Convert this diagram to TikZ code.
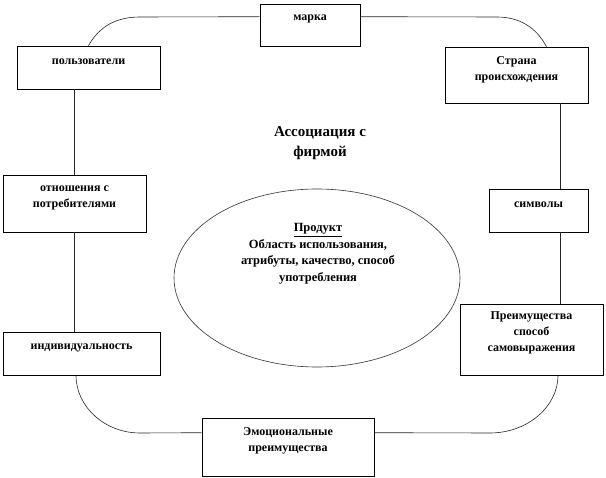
\documentclass[tikz,border=0pt]{standalone}
\usepackage{fontspec}
\setmainfont{Liberation Serif}
\usetikzlibrary{shadows,shapes.geometric}
\begin{document}
\begin{tikzpicture}[x=1pt,y=-1pt,
  box/.style={draw=black, line width=0.6pt, fill=white, inner sep=0pt,
    drop shadow={shadow xshift=1.2pt, shadow yshift=-1.2pt, fill=gray!80, opacity=0.8}},
  txt/.style={font=\bfseries\fontsize{12}{16}\selectfont, align=center, inner sep=0pt},
  ptxt/.style={font=\bfseries\fontsize{12.5}{16.5}\selectfont, align=center, inner sep=0pt},
  big/.style={font=\bfseries\fontsize{15}{20.5}\selectfont, align=center, inner sep=0pt},
  loop/.style={line width=0.6pt, draw=black!85}]
\useasboundingbox (0,0) rectangle (606,478);
\fill[white] (0,0) rectangle (606,478);

% reference coordinates for the loop
\coordinate (lx) at (74,0);
\coordinate (rx) at (560,0);

% central ellipse
\node[draw=black!80, line width=0.6pt, ellipse, minimum width=286pt, minimum height=178pt, inner sep=0pt] (prod) at (317,278) {};
\node[ptxt] (prodt) at (318,254) {\underline{Продукт}\\Область использования,\\атрибуты, качество, способ\\употребления};

\node[big] (assoc) at (320,143) {Ассоциация с\\фирмой};

% boxes
\node[box, minimum width=100pt, minimum height=42pt] (marka) at (310,25) {};
\node[box, minimum width=143pt, minimum height=43pt] (user) at (88.5,67.5) {};
\node[box, minimum width=143pt, minimum height=56pt] (country) at (516.5,75) {};
\node[box, minimum width=143pt, minimum height=57pt] (relat) at (74.5,203.5) {};
\node[box, minimum width=99pt, minimum height=43pt] (symb) at (538.5,210.5) {};
\node[box, minimum width=143pt, minimum height=71pt] (pref) at (531.5,339.5) {};
\node[box, minimum width=157pt, minimum height=43pt] (indiv) at (81.5,353.5) {};
\node[box, minimum width=172pt, minimum height=58pt] (emo) at (288,447) {};

% box texts
\node[txt] (markat) at (310,19) {марка};
\node[txt] (usert) at (88.5,62) {пользователи};
\node[txt] (countryt) at (516.5,69.5) {Страна\\происхождения};
\node[txt] (relatt) at (74.5,198) {отношения с\\потребителями};
\node[txt] (symbt) at (538.5,204.5) {символы};
\node[txt] (preft) at (531.5,333) {Преимущества\\способ\\самовыражения};
\node[txt] (indivt) at (81.5,348) {индивидуальность};
\node[txt] (emot) at (288,441) {Эмоциональные\\преимущества};

% loop connectors
\draw[loop] (user.north) .. controls (100,25) and (118,17) .. (140,17) -- ([yshift=-13pt]marka.north west);
\draw[loop] ([yshift=-13pt]marka.north east) -- (497,17) .. controls (519,17) and (536,27) .. ([xshift=30pt]country.north);
\draw[loop] (user.south -| lx) -- (relat.north -| lx);
\draw[loop] (relat.south -| lx) -- (indiv.north -| lx);
\draw[loop] (country.south -| rx) -- (symb.north -| rx);
\draw[loop] (symb.south -| rx) -- (pref.north -| rx);
\draw[loop] ([xshift=2pt]indiv.south -| lx) .. controls (76,407) and (105,433) .. (140,433) -- ([yshift=-15pt]emo.north west);
\draw[loop] ([yshift=-15pt]emo.north east) -- (490,433) .. controls (527,433) and (558,407) .. ([xshift=-2pt]pref.south -| rx);
\end{tikzpicture}
\end{document}
